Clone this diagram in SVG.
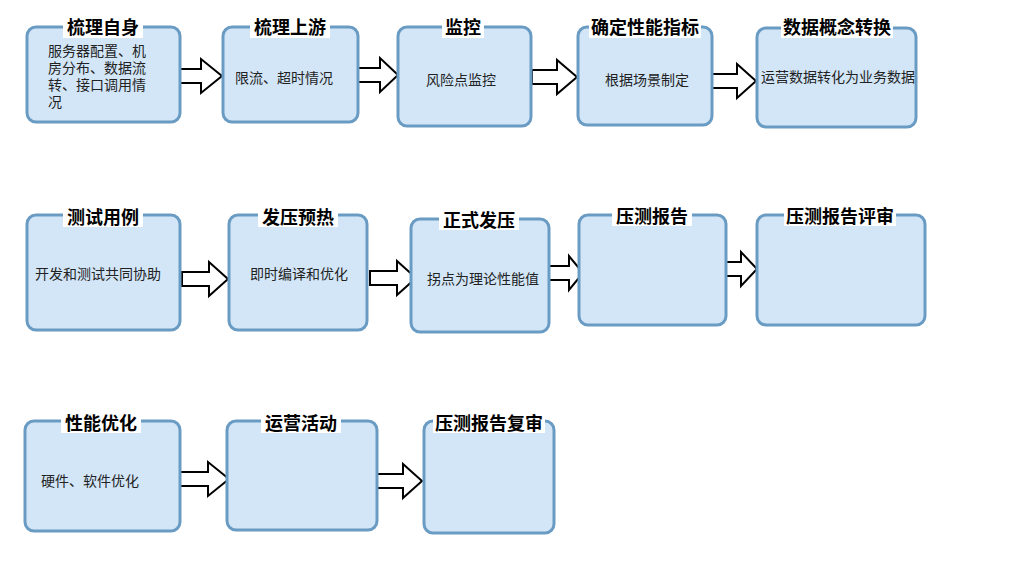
<svg xmlns="http://www.w3.org/2000/svg" width="1024" height="581" viewBox="0 0 1024 581">
<style>
.box{fill:#D2E6F8;stroke:#6A9BC3;stroke-width:3}
.tbg{fill:#FFFFFF}
.title{font-family:"Noto Sans CJK SC","Noto Sans",sans-serif;font-size:18px;font-weight:bold;fill:#000;text-anchor:middle;dominant-baseline:central}
.body{font-family:"Noto Sans CJK SC","Noto Sans",sans-serif;font-size:14px;fill:#222;dominant-baseline:central}
.mid{text-anchor:middle}
.arr{fill:#FFFFFF;stroke:#000;stroke-width:2;stroke-linejoin:miter}
</style>
<rect width="1024" height="581" fill="#FFFFFF"/>
<g id="connectors">
<polygon class="arr" points="176,69 201,69 201,59 222,76 201,93 201,83 176,83"/>
<polygon class="arr" points="352,68 380,68 380,58 398,75 380,92 380,82 352,82"/>
<polygon class="arr" points="532,70 557,70 557,60 577,77 557,94 557,84 532,84"/>
<polygon class="arr" points="710,74 737,74 737,64 756,81 737,98 737,88 710,88"/>
<polygon class="arr" points="182,272 209,272 209,262 228,279 209,296 209,286 182,286"/>
<polygon class="arr" points="370,271 397,271 397,261 416,278 397,295 397,285 370,285"/>
<polygon class="arr" points="549,266 569,266 569,256 583,273 569,290 569,280 549,280"/>
<polygon class="arr" points="722,262 741,262 741,252 757,269 741,286 741,276 722,276"/>
<polygon class="arr" points="179,472 208,472 208,462 229,479 208,496 208,486 179,486"/>
<polygon class="arr" points="376,474 403,474 403,464 422,481 403,498 403,488 376,488"/>
</g>
<g id="n1">
<rect class="box" x="27" y="27" width="153" height="95" rx="9"/>
<rect class="tbg" x="63" y="15" width="80" height="23"/>
<text class="title" x="103" y="26">梳理自身</text>
<text class="body"><tspan x="48" y="50">服务器配置、机</tspan><tspan x="48" y="67">房分布、数据流</tspan><tspan x="48" y="84">转、接口调用情</tspan><tspan x="48" y="101">况</tspan></text>
</g>
<g id="n2">
<rect class="box" x="223" y="27" width="135" height="95" rx="9"/>
<rect class="tbg" x="250" y="15" width="80" height="23"/>
<text class="title" x="290" y="26">梳理上游</text>
<text class="body" x="235" y="77">限流、超时情况</text>
</g>
<g id="n3">
<rect class="box" x="398" y="27" width="133" height="99" rx="9"/>
<rect class="tbg" x="442" y="15" width="42" height="23"/>
<text class="title" x="463" y="26">监控</text>
<text class="body mid" x="461" y="79">风险点监控</text>
</g>
<g id="n4">
<rect class="box" x="578" y="27" width="134" height="98" rx="9"/>
<rect class="tbg" x="589" y="15" width="112" height="23"/>
<text class="title" x="645" y="26">确定性能指标</text>
<text class="body mid" x="647" y="79">根据场景制定</text>
</g>
<g id="n5">
<rect class="box" x="757" y="28" width="159" height="99" rx="9"/>
<rect class="tbg" x="781" y="15" width="112" height="23"/>
<text class="title" x="837" y="26">数据概念转换</text>
<text class="body mid" x="838" y="76">运营数据转化为业务数据</text>
</g>
<g id="n6">
<rect class="box" x="27" y="215" width="153" height="115" rx="9"/>
<rect class="tbg" x="63" y="204" width="80" height="23"/>
<text class="title" x="103" y="216">测试用例</text>
<text class="body mid" x="98" y="273">开发和测试共同协助</text>
</g>
<g id="n7">
<rect class="box" x="229" y="215" width="138" height="115" rx="9"/>
<rect class="tbg" x="258" y="204" width="80" height="23"/>
<text class="title" x="298" y="216">发压预热</text>
<text class="body mid" x="299" y="273">即时编译和优化</text>
</g>
<g id="n8">
<rect class="box" x="411" y="219" width="138" height="113" rx="9"/>
<rect class="tbg" x="439" y="207" width="80" height="23"/>
<text class="title" x="479" y="219">正式发压</text>
<text class="body mid" x="483" y="278">拐点为理论性能值</text>
</g>
<g id="n9">
<rect class="box" x="579" y="215" width="147" height="110" rx="9"/>
<rect class="tbg" x="612" y="203" width="80" height="23"/>
<text class="title" x="652" y="215">压测报告</text>
</g>
<g id="n10">
<rect class="box" x="757" y="215" width="168" height="110" rx="9"/>
<rect class="tbg" x="784" y="203" width="112" height="23"/>
<text class="title" x="840" y="215">压测报告评审</text>
</g>
<g id="n11">
<rect class="box" x="25" y="421" width="155" height="110" rx="9"/>
<rect class="tbg" x="61" y="410" width="80" height="23"/>
<text class="title" x="101" y="422">性能优化</text>
<text class="body" x="41" y="480">硬件、软件优化</text>
</g>
<g id="n12">
<rect class="box" x="227" y="421" width="150" height="109" rx="9"/>
<rect class="tbg" x="261" y="410" width="80" height="23"/>
<text class="title" x="301" y="422">运营活动</text>
</g>
<g id="n13">
<rect class="box" x="424" y="421" width="130" height="112" rx="9"/>
<rect class="tbg" x="433" y="410" width="112" height="23"/>
<text class="title" x="489" y="422">压测报告复审</text>
</g>
</svg>
